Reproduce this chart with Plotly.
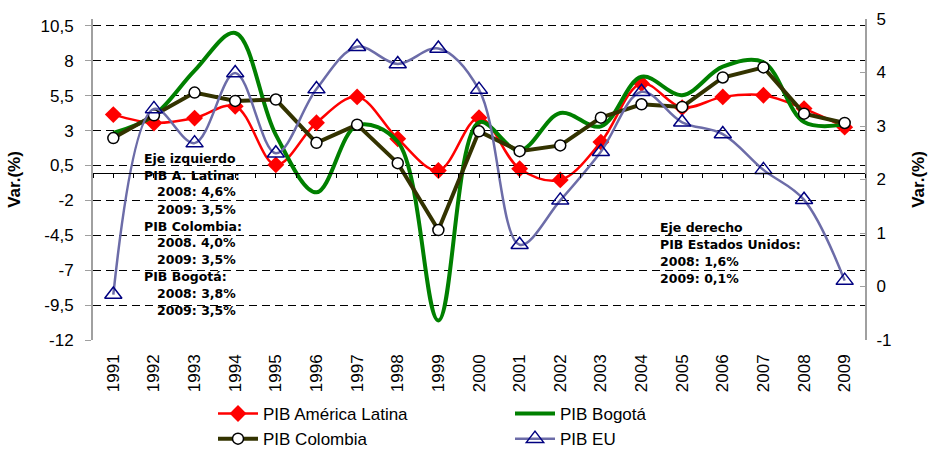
import plotly.graph_objects as go

years = list(range(1991, 2010))
year_labels = [str(y) for y in years]

pib_al = [4.15, 3.55, 3.9, 4.75, 0.55, 3.57, 5.42, 2.42, 0.15, 3.93,
          0.27, -0.53, 2.18, 6.38, 4.65, 5.42, 5.54, 4.58, 3.25]
pib_bogota = [2.83, 4.1, 7.3, 10.0, 2.7, -1.42, 3.38, 2.2, -10.6, 3.6,
              1.58, 4.27, 3.31, 6.86, 5.54, 7.58, 7.9, 3.62, 3.45]
pib_colombia = [2.47, 4.1, 5.73, 5.13, 5.23, 2.13, 3.43, 0.67, -4.12, 2.95,
                1.53, 1.94, 3.93, 4.89, 4.7, 6.81, 7.53, 4.22, 3.55]
pib_eu = [-0.15, 3.32, 2.68, 3.99, 2.49, 3.69, 4.48, 4.16, 4.45, 3.68,
          0.78, 1.61, 2.52, 3.64, 3.07, 2.85, 2.18, 1.62, 0.11]

left_ticks = [-12, -9.5, -7, -4.5, -2, 0.5, 3, 5.5, 8, 10.5]
left_tick_text = ["-12", "-9,5", "-7", "-4,5", "-2", "0,5", "3", "5,5", "8", "10,5"]
right_ticks = [-1, 0, 1, 2, 3, 4, 5]
right_tick_text = ["-1", "0", "1", "2", "3", "4", "5"]

left_notes = [("Eje izquierdo", 0), ("PIB A. Latina:", 0), ("2008: 4,6%", 1), ("2009: 3,5%", 1),
              ("PIB Colombia:", 0), ("2008. 4,0%", 1), ("2009: 3,5%", 1),
              ("PIB Bogotá:", 0), ("2008: 3,8%", 1), ("2009: 3,5%", 1)]
right_notes = ["Eje derecho", "PIB Estados Unidos:", "2008: 1,6%", "2009: 0,1%"]

W, H = 934, 450
L, R, T, B = 93, 865, 19, 340
YMIN, YMAX = -12, 11

def px(x):
    return (x - L) / (R - L)

def py(y):
    return (B - y) / (B - T)

fig = go.Figure()

fig.add_trace(go.Scatter(
    x=years, y=pib_al, name="PIB América Latina", mode="lines+markers",
    line=dict(color="#FF0000", width=2.5, shape="spline", smoothing=1),
    marker=dict(symbol="diamond", size=13, color="#FF0000"),
))
fig.add_trace(go.Scatter(
    x=years, y=pib_bogota, name="PIB Bogotá", mode="lines",
    line=dict(color="#008000", width=4, shape="spline", smoothing=1),
))
fig.add_trace(go.Scatter(
    x=years, y=pib_colombia, name="PIB Colombia", mode="lines+markers",
    line=dict(color="#333300", width=4),
    marker=dict(symbol="circle", size=11, color="white", line=dict(color="black", width=1.5)),
))
fig.add_trace(go.Scatter(
    x=years, y=pib_eu, name="PIB EU", mode="lines+markers", yaxis="y2",
    line=dict(color="#6C6CA8", width=2.5, shape="spline", smoothing=1),
    marker=dict(symbol="triangle-up-open", size=15, color="#000080", line=dict(width=1.5)),
))
# helper trace so the zero-crossing category axis is drawn
fig.add_trace(go.Scatter(
    x=years, y=[None] * len(years), xaxis="x2", yaxis="y", showlegend=False,
    hoverinfo="skip", mode="lines",
))

annotations = []
left_y = [158, 175, 192, 209, 226, 242, 259, 276, 293, 310]
for (txt, indent), ys in zip(left_notes, left_y):
    xs = 142 if indent == 0 else 155
    annotations.append(dict(x=px(xs), y=py(ys), xref="paper", yref="paper", text=txt,
                            showarrow=False, xanchor="left", yanchor="middle",
                            font=dict(family="DejaVu Sans", size=12.5, color="black", weight="bold")))
right_y = [227, 244, 261, 278]
for txt, ys in zip(right_notes, right_y):
    annotations.append(dict(x=px(658), y=py(ys), xref="paper", yref="paper", text=txt,
                            showarrow=False, xanchor="left", yanchor="middle",
                            font=dict(family="DejaVu Sans", size=12.5, color="black", weight="bold")))

fig.update_layout(
    width=W, height=H,
    margin=dict(l=L, r=W - R, t=T, b=H - B, autoexpand=False),
    paper_bgcolor="white", plot_bgcolor="white",
    font=dict(family="Liberation Sans, Arial", size=15, color="black"),
    showlegend=True,
    legend=dict(orientation="h", x=px(213), y=py(396), xanchor="left", yanchor="top",
                entrywidth=242, entrywidthmode="pixels", font=dict(size=17),
                itemwidth=40, tracegroupgap=0, bgcolor="rgba(0,0,0,0)"),
    xaxis=dict(range=[years[0] - 0.5, years[-1] + 0.5], tickmode="array", tickvals=years,
               ticktext=year_labels, tickangle=-90, showgrid=False, zeroline=False,
               showline=False, ticks="", ticklabelstandoff=10, tickfont=dict(size=17),
               automargin=False),
    xaxis2=dict(overlaying="x", anchor="free", position=(0 - YMIN) / (YMAX - YMIN),
                range=[years[0] - 0.5, years[-1] + 0.5], tickmode="linear",
                tick0=years[0] - 0.5, dtick=0.5, ticks="outside", ticklen=4,
                tickcolor="black", showticklabels=False, showline=True, linecolor="black",
                linewidth=1, showgrid=False, zeroline=False, automargin=False),
    yaxis=dict(range=[YMIN, YMAX], tickmode="array", tickvals=left_ticks, ticktext=left_tick_text,
               showgrid=True, gridcolor="black", gridwidth=1, griddash="8px,5px",
               zeroline=False, showline=True, linecolor="#A0A0A0", linewidth=2,
               ticks="outside", ticklen=6, tickcolor="#A0A0A0", tickfont=dict(size=17),
               ticklabelstandoff=8, automargin=False,
               title=dict(text="<b>Var.(%)</b>", font=dict(size=17), standoff=16)),
    yaxis2=dict(range=[-1, 5], overlaying="y", side="right", tickmode="array",
                tickvals=right_ticks, ticktext=right_tick_text, showgrid=False, zeroline=False,
                showline=True, linecolor="#A0A0A0", linewidth=2, ticks="inside", ticklen=5,
                tickcolor="#A0A0A0", tickfont=dict(size=17), automargin=False,
                ticklabelstandoff=6,
                title=dict(text="<b>Var.(%)</b>", font=dict(size=17), standoff=22)),
    annotations=annotations,
)

fig.write_html("out.html", config={"displayModeBar": False},
               post_script="document.body.style.margin='0';")
